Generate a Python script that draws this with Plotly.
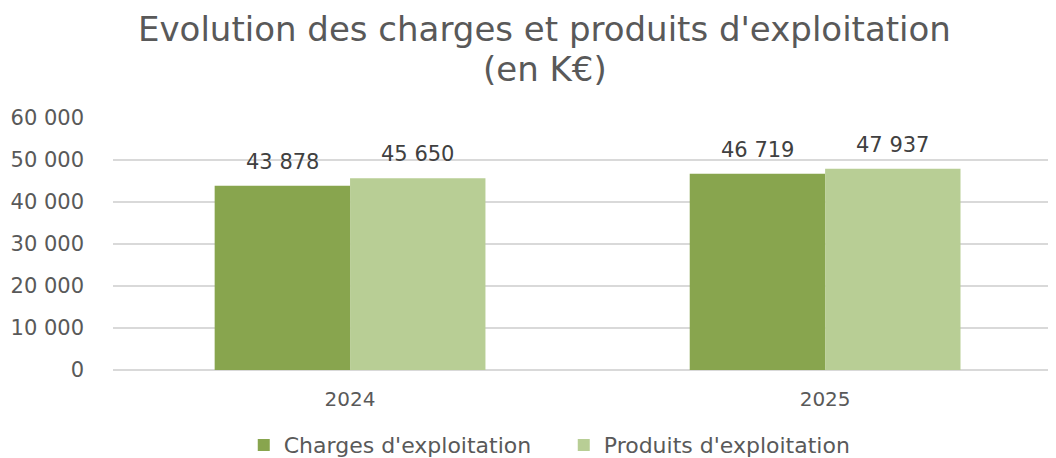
import plotly.graph_objects as go

categories = ["2024", "2025"]
charges = [43878, 46719]
produits = [45650, 47937]
series_names = ["Charges d'exploitation", "Produits d'exploitation"]
colors = ["#88A54E", "#B8CE95"]
title_lines = ["Evolution des charges et produits d'exploitation", "(en K€)"]
tick_vals = [0, 10000, 20000, 30000, 40000, 50000, 60000]

FONT = "DejaVu Sans, sans-serif"
GREY = "#595959"

fig = go.Figure()
for name, vals, col in zip(series_names, [charges, produits], colors):
    fig.add_trace(go.Bar(x=categories, y=vals, name=name, marker_color=col,
                         marker_line_width=0))

half = 0.142
annotations = []
for i, cat in enumerate(categories):
    for j, vals in enumerate([charges, produits]):
        annotations.append(dict(
            x=i + (-half if j == 0 else half), y=vals[i], xref="x", yref="y",
            text=f"{vals[i]:,}".replace(",", " "), showarrow=False,
            yanchor="middle", yshift=24,
            font=dict(family=FONT, size=21, color="#404040")))

for k, (line, shift) in enumerate(zip(title_lines, [89, 49])):
    annotations.append(dict(
        x=0.458, y=1, xref="paper", yref="paper", text=line, showarrow=False,
        xanchor="center", yanchor="middle", yshift=shift,
        font=dict(family=FONT, size=34, color=GREY)))

fig.update_layout(
    width=1048, height=450,
    margin=dict(l=105, r=0, t=110, b=88, autoexpand=False),
    paper_bgcolor="white", plot_bgcolor="white",
    separators=", ",
    barmode="group", bargap=0.43, bargroupgap=0,
    annotations=annotations,
    legend=dict(orientation="h", x=0.478, xanchor="center", y=-0.298, yanchor="middle",
                font=dict(family=FONT, size=22, color=GREY),
                entrywidth=275, traceorder="normal"),
    xaxis=dict(range=[-0.499, 1.486], showgrid=False, showline=False,
               tickfont=dict(family=FONT, size=20, color=GREY),
               ticks="", ticklabelstandoff=15),
    yaxis=dict(range=[0, 60000], tickvals=tick_vals, tickformat=",",
               showgrid=True, gridcolor="#D9D9D9", gridwidth=1.5,
               zeroline=True, zerolinecolor="#D9D9D9", zerolinewidth=1.5,
               tickfont=dict(family=FONT, size=21, color=GREY),
               ticks="", ticklabelstandoff=28),
)

fig.write_html("out.html")
